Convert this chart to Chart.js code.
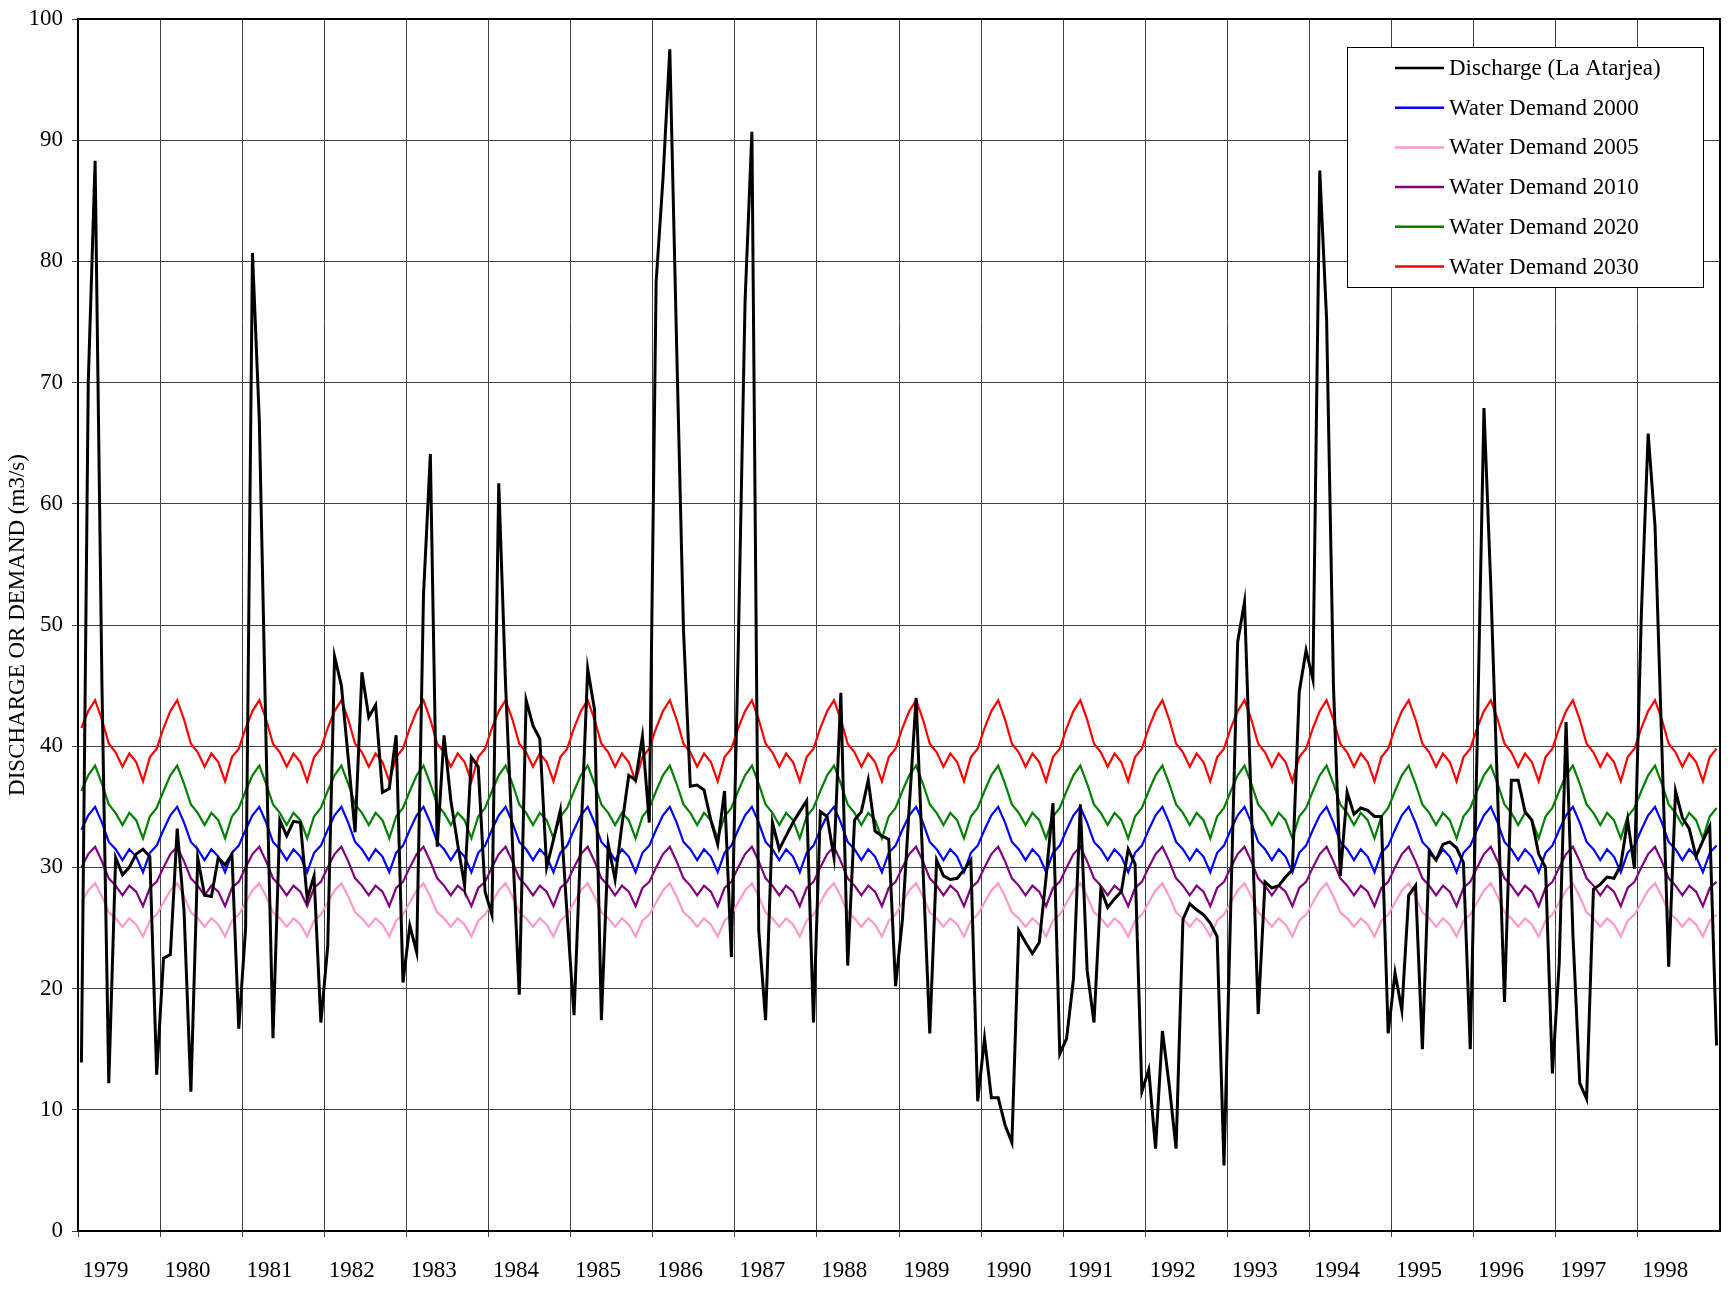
<!DOCTYPE html>
<html>
<head>
<meta charset="utf-8">
<script src="https://cdn.jsdelivr.net/npm/chart.js@4.4.1/dist/chart.umd.min.js"></script>
<style>
  body { margin: 0; background: #fff; }
  canvas { display: block; }
</style>
</head>
<body>
<canvas id="chart" width="1731" height="1294"></canvas>
<script>
const years = ['1979', '1980', '1981', '1982', '1983', '1984', '1985', '1986', '1987', '1988',
  '1989', '1990', '1991', '1992', '1993', '1994', '1995', '1996', '1997', '1998'];

// monthly discharge, one row per year (Jan..Dec)
const discharge = [
  13.9, 70.0, 88.3, 45.0, 12.2, 30.8, 29.4, 30.0, 31.1, 31.5, 30.9, 12.9,
  22.5, 22.8, 33.2, 26.4, 11.5, 30.8, 27.7, 27.6, 30.8, 30.2, 31.1, 16.7,
  25.0, 80.7, 66.9, 40.0, 15.9, 33.9, 32.6, 33.8, 33.7, 27.4, 29.3, 17.2,
  23.5, 47.4, 45.0, 39.0, 32.9, 46.1, 42.4, 43.4, 36.2, 36.5, 40.9, 20.5,
  25.2, 23.0, 52.5, 64.1, 31.7, 40.9, 35.5, 31.9, 28.5, 39.1, 38.3, 28.0,
  26.1, 61.7, 45.0, 32.0, 19.5, 43.8, 41.7, 40.6, 30.0, 32.3, 34.7, 26.0,
  17.8, 32.3, 46.4, 43.0, 17.4, 31.9, 29.0, 33.5, 37.6, 37.2, 40.8, 33.7,
  78.3, 86.8, 97.5, 73.0, 49.6, 36.7, 36.8, 36.4, 33.9, 31.9, 36.3, 22.6,
  48.0, 76.7, 90.7, 24.8, 17.4, 33.7, 31.5, 32.6, 33.7, 34.6, 35.5, 17.2,
  34.6, 34.2, 30.8, 44.4, 21.9, 33.9, 34.6, 37.2, 33.0, 32.6, 32.3, 20.2,
  25.7, 35.0, 44.0, 30.0, 16.3, 30.6, 29.3, 29.0, 29.1, 29.8, 30.6, 10.7,
  15.9, 11.0, 11.0, 8.75, 7.3, 24.8, 23.8, 22.9, 23.8, 29.2, 35.3, 14.6,
  15.9, 20.8, 35.2, 21.5, 17.2, 28.2, 26.7, 27.4, 28.0, 31.5, 30.3, 11.5,
  13.3, 6.8, 16.5, 12.0, 6.8, 25.7, 27.0, 26.5, 26.1, 25.4, 24.3, 5.4,
  27.0, 48.6, 51.9, 35.0, 17.9, 28.8, 28.3, 28.5, 29.2, 29.8, 44.5, 47.9,
  45.5, 87.5, 75.2, 45.0, 29.3, 36.2, 34.4, 34.9, 34.7, 34.2, 34.2, 16.3,
  21.3, 18.2, 27.7, 28.5, 15.0, 31.3, 30.6, 31.9, 32.1, 31.6, 30.4, 15.0,
  40.0, 67.9, 53.2, 36.0, 18.9, 37.2, 37.2, 34.6, 33.9, 31.1, 30.0, 13.0,
  22.1, 42.0, 24.5, 12.2, 10.9, 28.2, 28.6, 29.2, 29.1, 30.2, 33.9, 29.9,
  50.8, 65.8, 58.2, 40.0, 21.8, 36.3, 34.1, 33.2, 30.9, 32.2, 33.4, 15.3
];

// demand profiles, Jan..Dec, repeated every year
const demand2000 = [33.1, 34.3, 35.0, 33.7, 32.1, 31.5, 30.6, 31.5, 30.9, 29.6, 31.2, 31.8];
const demand2005 = [27.1, 28.1, 28.7, 27.6, 26.3, 25.8, 25.1, 25.8, 25.3, 24.3, 25.6, 26.1];
const demand2010 = [30.0, 31.1, 31.7, 30.5, 29.1, 28.5, 27.7, 28.5, 28.0, 26.8, 28.3, 28.8];
const demand2020 = [36.3, 37.6, 38.4, 36.9, 35.2, 34.5, 33.5, 34.5, 33.9, 32.4, 34.2, 34.9];
const demand2030 = [41.5, 42.9, 43.8, 42.2, 40.2, 39.5, 38.3, 39.4, 38.7, 37.1, 39.1, 39.8];

const labels = [];
years.forEach(y => { for (let m = 0; m < 12; m++) labels.push(m === 0 ? y : ''); });
function everyYear(profile) { return years.flatMap(() => profile); }

const FONT = 'Liberation Serif';

function series(label, data, color, width) {
  return { label: label, data: data, borderColor: color, backgroundColor: color,
    borderWidth: width, pointRadius: 0, tension: 0, fill: false };
}

// legend box drawn inside the plot, top right
const boxLegend = {
  id: 'boxLegend',
  afterDraw(chart) {
    const ctx = chart.ctx;
    const x = 1347, y = 47, w = 356, h = 240;
    ctx.save();
    ctx.fillStyle = '#fff';
    ctx.fillRect(x, y, w, h);
    ctx.strokeStyle = '#000';
    ctx.lineWidth = 1;
    ctx.strokeRect(x + 0.5, y + 0.5, w, h);
    ctx.font = '23px "' + FONT + '"';
    ctx.textBaseline = 'middle';
    chart.data.datasets.forEach((ds, i) => {
      const ry = 68 + i * 39.7;
      ctx.strokeStyle = ds.borderColor;
      ctx.lineWidth = 2.5;
      ctx.beginPath();
      ctx.moveTo(1395, ry);
      ctx.lineTo(1444, ry);
      ctx.stroke();
      ctx.fillStyle = '#000';
      ctx.fillText(ds.label, 1449, ry + 1);
    });
    ctx.restore();
  }
};

const plotBorder = {
  id: 'plotBorder',
  afterDatasetsDraw(chart) {
    const a = chart.chartArea, ctx = chart.ctx;
    ctx.save();
    ctx.strokeStyle = '#000';
    ctx.lineWidth = 2;
    ctx.strokeRect(a.left, a.top, a.right - a.left, a.bottom - a.top);
    ctx.restore();
  }
};

// only year boundaries get a grid line and tick mark
function yearGrid(c) { return c.index % 12 === 0 ? '#404040' : 'rgba(0,0,0,0)'; }

new Chart(document.getElementById('chart'), {
  type: 'line',
  data: {
    labels: labels,
    datasets: [
      series('Discharge (La Atarjea)', discharge, '#000000', 3),
      series('Water Demand 2000', everyYear(demand2000), '#0000ff', 2.2),
      series('Water Demand 2005', everyYear(demand2005), '#ff99cc', 2.2),
      series('Water Demand 2010', everyYear(demand2010), '#800080', 2.2),
      series('Water Demand 2020', everyYear(demand2020), '#008000', 2.2),
      series('Water Demand 2030', everyYear(demand2030), '#ff0000', 2.2)
    ]
  },
  options: {
    responsive: false,
    animation: false,
    layout: { padding: { top: 19, right: 11, left: 0, bottom: 0 } },
    plugins: { legend: { display: false }, tooltip: { enabled: false } },
    scales: {
      x: {
        offset: true,
        grid: { offset: true, color: yearGrid, tickColor: yearGrid, lineWidth: 1, tickLength: 6 },
        border: { color: '#000', width: 2 },
        ticks: {
          autoSkip: false, maxRotation: 0, minRotation: 0,
          labelOffset: 24, padding: 11,
          color: '#000', font: { family: FONT, size: 23, lineHeight: 2.0 }
        },
        afterFit: function (s) { s.height = 63; }
      },
      y: {
        min: 0, max: 100,
        grid: { color: '#404040', lineWidth: 1, tickLength: 6 },
        border: { color: '#000', width: 2 },
        ticks: { stepSize: 10, padding: 9, color: '#000', font: { family: FONT, size: 23, lineHeight: 0.8 } },
        title: { display: true, text: 'DISCHARGE OR DEMAND (m3/s)', color: '#000',
          font: { family: FONT, size: 23 }, padding: { top: 4, bottom: 4 } },
        afterFit: function (s) { s.width = 78; }
      }
    }
  },
  plugins: [plotBorder, boxLegend]
});
</script>
</body>
</html>
